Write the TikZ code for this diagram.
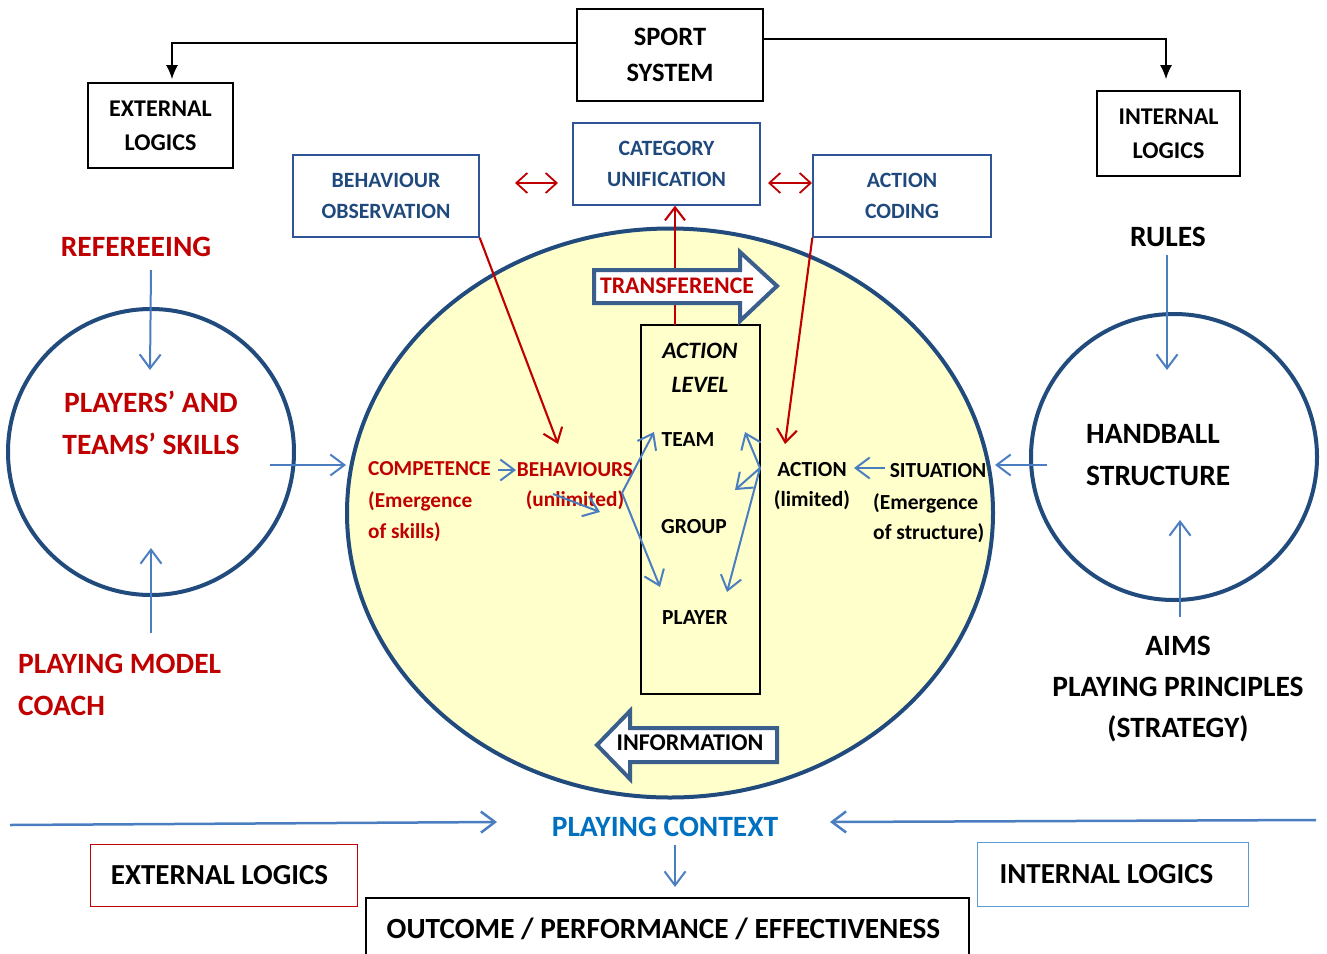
\documentclass[tikz,border=0pt]{standalone}
\usepackage{fontspec}
\setmainfont{Carlito}
\usetikzlibrary{arrows.meta,shapes.geometric,calc}
\definecolor{dblue}{RGB}{33,75,125}
\definecolor{bblue}{RGB}{47,85,151}
\definecolor{btext}{RGB}{31,73,125}
\definecolor{myred}{RGB}{192,0,0}
\definecolor{lblue}{RGB}{74,126,193}
\definecolor{ctxblue}{RGB}{0,112,192}
\definecolor{pale}{RGB}{255,255,204}
\definecolor{arrblue}{RGB}{58,95,140}
\definecolor{ilblue}{RGB}{91,155,213}
\newcommand\myfs[2]{\fontsize{#1}{#2}\selectfont}
\begin{document}
\begin{tikzpicture}[x=1pt,y=-1pt,
  blackbox/.style={draw=black, line width=1.8pt, align=center, inner sep=0, font=\bfseries\myfs{24}{34}},
  bluebox/.style={draw=bblue, line width=1.3pt, align=center, inner sep=0, text=btext, font=\bfseries\myfs{21.8}{31}},
  redarr/.style={draw=myred, line width=2.1pt, -{Straight Barb[length=13pt,width=20pt]}},
  reddbl/.style={draw=myred, line width=1.8pt, {Straight Barb[length=11pt,width=20pt]}-{Straight Barb[length=11pt,width=20pt]}},
  bluearr/.style={draw=lblue, line width=2pt, -{Straight Barb[length=14pt,width=21pt]}},
  blackarr/.style={draw=black, line width=1.5pt, -{Latex[length=14pt,width=12pt]}},
  txt/.style={align=center, inner sep=0},
  smallb/.style={txt, font=\bfseries\myfs{21.5}{30}},
  bigb/.style={txt, font=\bfseries\myfs{29.5}{42}},
  blockarr/.style={draw=arrblue, line width=4pt, fill=white, line join=miter},
  circ/.style={circle, draw=dblue, line width=4pt, fill=white, minimum size=286pt, inner sep=0}
]
\useasboundingbox (0,0) rectangle (1327,953);

% top boxes
\node[blackbox, minimum width=186pt, minimum height=92pt, font=\bfseries\myfs{26.5}{36}] (sport) at (670,55) {SPORT\\SYSTEM};
\node[blackbox, minimum width=145pt, minimum height=85pt] (ext1) at (160.5,125.5) {EXTERNAL\\LOGICS};
\node[blackbox, minimum width=143pt, minimum height=85pt] (int1) at (1168.5,133.5) {INTERNAL\\LOGICS};
\draw[blackarr, shorten >=3pt] ($(sport.west)+(0,-12)$) -| ($(ext1.north)+(11.5,0)$);
\draw[blackarr, shorten >=11pt] ($(sport.east)+(0,-16)$) -| ($(int1.north)+(-2.5,0)$);

\node[bluebox, minimum width=187pt, minimum height=82pt] (cat) at (666.5,164) {CATEGORY\\UNIFICATION};
\node[bluebox, minimum width=186pt, minimum height=82pt] (beh) at (386,196) {BEHAVIOUR\\OBSERVATION};
\node[bluebox, minimum width=178pt, minimum height=82pt] (acod) at (902,196) {ACTION\\CODING};
\coordinate (d1a) at (515,183); \coordinate (d1b) at (558,183);
\coordinate (d2a) at (768,183); \coordinate (d2b) at (812,183);
\draw[reddbl] (d1a) -- (d1b);
\draw[reddbl] (d2a) -- (d2b);

% big ellipse
\node[ellipse, draw=dblue, line width=4pt, fill=pale, minimum width=646pt, minimum height=569pt, inner sep=0] (ell) at (670,513) {};

% action level box
\node[draw=black, line width=1.3pt, fill=pale, minimum width=119pt, minimum height=369pt, inner sep=0] (alev) at (700.5,509.5) {};
\node[txt, font=\bfseries\itshape\myfs{23.5}{34}] (altxt) at (700,368) {ACTION\\LEVEL};
\node[smallb] (team) at (688,440) {TEAM};
\node[smallb] (group) at (694,527) {GROUP};
\node[smallb] (player) at (695,618) {PLAYER};

% red connectors
\coordinate (tr) at (675,325);
\draw[redarr] (tr) -- (tr |- cat.south);
\coordinate (behtip) at (558,444);
\coordinate (acttip) at (785,444);
\draw[redarr] (beh.south east) -- (behtip);
\draw[redarr] (acod.south west) -- (acttip);

% block arrows
\draw[blockarr] (594,270) -- (740,270) -- (740,252) -- (777,286) -- (740,321) -- (740,303) -- (594,303) -- cycle;
\node[txt, text=myred, font=\bfseries\myfs{23.8}{30}] (transf) at (677,286) {TRANSFERENCE};
\draw[blockarr] (777,728) -- (630,728) -- (630,711) -- (597,745) -- (630,779) -- (630,762) -- (777,762) -- cycle;
\node[txt, font=\bfseries\myfs{24}{30}] (inform) at (690,743) {INFORMATION};

% texts in ellipse
\node[txt, align=left, anchor=west, text=myred, font=\bfseries\myfs{21.3}{31.5}] (comp) at (368,502) {COMPETENCE\\(Emergence\\of skills)};
\node[txt, text=myred, font=\bfseries\myfs{21.3}{30}] (behav) at (575,486) {BEHAVIOURS\\(unlimited)};
\node[smallb] (action) at (812,486) {ACTION\\(limited)};
\node[smallb] (sit) at (938,471) {SITUATION};
\node[txt, align=left, anchor=west, font=\bfseries\myfs{21.5}{30}] (sitsub) at (873,518) {(Emergence\\of structure)};

% blue arrows inside ellipse
\coordinate (c1) at (498,470); \coordinate (c2) at (516,470);
\draw[bluearr] (c1) -- (c2);
\coordinate (u1) at (553,494); \coordinate (u2) at (600,512);
\draw[bluearr] (u1) -- (u2);
\coordinate (j1) at (622,493); \coordinate (j1t) at (654,432); \coordinate (j1p) at (660,587);
\draw[bluearr] (j1) -- (j1t);
\draw[bluearr] (j1) -- (j1p);
\coordinate (j2) at (760,468); \coordinate (j2t) at (745,432); \coordinate (j2g) at (735,490); \coordinate (j2p) at (727,592);
\draw[bluearr] (j2) -- (j2t);
\draw[bluearr] (j2) -- (j2g);
\draw[bluearr] (j2) -- (j2p);
\coordinate (s1) at (885,468); \coordinate (s2) at (854,468);
\draw[bluearr] (s1) -- (s2);

% side circles
\node[circ] (lc) at (151,452) {};
\node[circ] (rc) at (1174,457) {};
\node[bigb, text=myred] (skills) at (151,423) {PLAYERS’ AND\\TEAMS’ SKILLS};
\node[bigb, align=left, anchor=west] (hb) at (1086,455) {HANDBALL\\STRUCTURE};

\coordinate (lc1) at (270,465); \coordinate (lc2) at (346,465);
\draw[bluearr] (lc1) -- (lc2);
\coordinate (rc1) at (1047,465); \coordinate (rc2) at (995,465);
\draw[bluearr] (rc1) -- (rc2);

\node[bigb, text=myred] (ref) at (136,247) {REFEREEING};
\coordinate (ref1) at (151,270); \coordinate (ref2) at (150,370);
\draw[bluearr] (ref1) -- (ref2);
\node[bigb, text=myred, align=left, anchor=west] (pm) at (18,685) {PLAYING MODEL\\COACH};
\coordinate (pm1) at (151,633); \coordinate (pm2) at (151,548);
\draw[bluearr] (pm1) -- (pm2);

\node[bigb] (rules) at (1168,237) {RULES};
\coordinate (ru1) at (1167,255); \coordinate (ru2) at (1167,370);
\draw[bluearr] (ru1) -- (ru2);
\node[bigb, font=\bfseries\myfs{29.5}{41}] (aims) at (1178,689) {AIMS\\PLAYING PRINCIPLES\\(STRATEGY)};
\coordinate (ai1) at (1180,617); \coordinate (ai2) at (1180,520);
\draw[bluearr] (ai1) -- (ai2);

% bottom
\node[bigb, text=ctxblue] (pc) at (665,827) {PLAYING CONTEXT};
\coordinate (bl1) at (10,825); \coordinate (bl2) at (497,822);
\coordinate (br1) at (1316,820); \coordinate (br2) at (830,822);
\draw[bluearr, line width=2.5pt] (bl1) -- (bl2);
\draw[bluearr, line width=2.5pt] (br1) -- (br2);
\coordinate (pd1) at (675,845);
\draw[bluearr] (pd1) -- (675,887) coordinate (pd2);

\node[draw=myred, line width=1pt, minimum width=267pt, minimum height=62pt, inner sep=0, font=\bfseries\myfs{29}{40}] (exl2) at (223.5,875) {EXTERNAL LOGICS\kern8pt\relax};
\node[draw=ilblue, line width=1pt, minimum width=271pt, minimum height=64pt, inner sep=0, font=\bfseries\myfs{29}{40}] (inl2) at (1112.5,874) {INTERNAL LOGICS\kern12pt\relax};
\node[draw=black, line width=1.5pt, minimum width=603pt, minimum height=62pt, inner sep=0, font=\bfseries\myfs{29.3}{40}] (outc) at (667.5,929) {OUTCOME / PERFORMANCE / EFFECTIVENESS\kern8pt\relax};
\end{tikzpicture}
\end{document}
